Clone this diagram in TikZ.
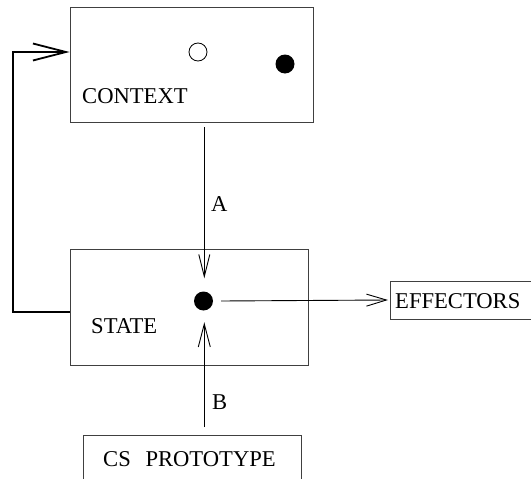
\documentclass[tikz,border=0pt]{standalone}
\usepackage{fontspec}
\setmainfont{Liberation Serif}
\usetikzlibrary{arrows.meta,calc}
\begin{document}
\begin{tikzpicture}[x=1pt,y=-1pt,
  box/.style={draw=black!75,line width=0.9pt,rectangle,inner sep=0pt},
  lbl/.style={anchor=base west,inner sep=0pt,font=\fontsize{22.6}{27}\selectfont},
  arr/.style={line width=0.9pt,-{Straight Barb[length=22pt,width=11pt,line width=0.9pt]}},
  dotf/.style={circle,fill=black,inner sep=0pt,minimum size=19pt},
  doto/.style={circle,draw=black,line width=0.8pt,inner sep=0pt,minimum size=18pt}]
\useasboundingbox (0,0) rectangle (531,479);
\clip (0,0) rectangle (531,479);
% boxes
\node[box,minimum width=243pt,minimum height=115pt] (context) at (191.5,64.5) {};
\node[box,minimum width=238pt,minimum height=116pt] (state) at (189,307) {};
\node[box,minimum width=150pt,minimum height=38pt,anchor=west] (eff) at (390,300) {};
\node[box,minimum width=218pt,minimum height=60pt,anchor=north west] (cs) at (83,435) {};
% texts
\node[lbl] (tcontext) at (82,103) {CONTEXT};
\node[lbl] (tstate) at (91,333) {STATE};
\node[lbl] (teff) at (395,308) {EFFECTORS};
\node[lbl] (tcs) at (103,466) {CS\hspace{0.65em}PROTOTYPE};
\node[lbl] (ta) at (211,211) {A};
\node[lbl] (tb) at (212,409) {B};
% dots
\node[doto] (cdot1) at (198,52) {};
\node[dotf] (cdot2) at (285,64) {};
\node[dotf] (sdot) at (203.5,301) {};
% connectors
\draw[arr] ($(context.south -| sdot)+(0.8,5)$) -- ($(sdot.north)+(0.8,-13)$);
\draw[arr,-{Straight Barb[length=23pt,width=12pt,line width=0.9pt]}] ($(cs.north -| sdot)+(0.8,-8)$) -- ($(sdot.south)+(0.8,11.5)$);
\draw[arr,-{Straight Barb[length=20pt,width=12pt,line width=0.9pt]}] ($(sdot.east)+(8,0)$) -- ($(eff.west)+(-2,0)$);
\draw[line width=2pt,-{Straight Barb[length=33pt,width=17pt,line width=1.8pt]}]
  ($(state.west)+(0,5)$) -- ++(-57,0) |- ($(context.west)+(0,-12.5)$);
\end{tikzpicture}
\end{document}
